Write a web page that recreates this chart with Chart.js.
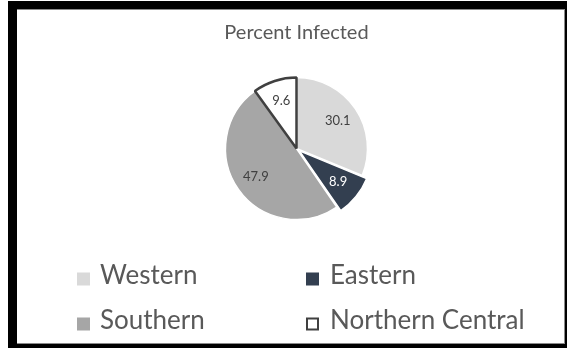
<!DOCTYPE html>
<html>
<head>
<meta charset="utf-8">
<script src="https://cdn.jsdelivr.net/npm/chart.js@4/dist/chart.umd.min.js"></script>
<style>
  html, body { margin: 0; padding: 0; width: 567px; height: 348px; overflow: hidden; background: #fff; }
  #frame { position: absolute; left: 8px; top: 1px; width: 559px; height: 347px; background: #000; }
  #inner { position: absolute; left: 17px; top: 9px; width: 548px; height: 335px; box-sizing: border-box;
           background: #fff; border-top: 1px solid #8a8a8a; border-right: 1px solid #8a8a8a; border-bottom: 1px solid #8a8a8a; }
  #c { position: absolute; left: 0; top: 0; }
</style>
</head>
<body>
<div id="frame"></div>
<div id="inner"></div>
<canvas id="c" width="567" height="348"></canvas>
<script>
// ---- data ----
const chartTitle = 'Percent Infected';
const categories = ['Western', 'Eastern', 'Southern', 'Northern Central'];
const percentInfected = [30.1, 8.9, 47.9, 9.6];

// ---- styles ----
const sliceColors = ['#d9d9d9', '#333f50', '#a6a6a6', '#ffffff'];
const sliceBorders = ['#ffffff', '#ffffff', '#ffffff', '#404040'];
const sliceBorderWidths = [1.5, 1.5, 1.5, 2.5];
const sliceOffsets = [0, 15, 0, 0];
const labelColors = ['#404040', '#ffffff', '#404040', '#404040'];
const textColor = '#595959';
const FONT = 'Lato, "Open Sans", sans-serif';

const annotationsPlugin = {
  id: 'excelLike',
  afterDatasetsDraw(chart) {
    const ctx = chart.ctx;
    const meta = chart.getDatasetMeta(0);
    const ds = chart.data.datasets[0];
    ctx.save();
    ctx.font = '13px ' + FONT;
    ctx.textAlign = 'center';
    ctx.textBaseline = 'middle';
    meta.data.forEach((arc, i) => {
      const p = arc.getProps(['x', 'y', 'startAngle', 'endAngle', 'outerRadius'], true);
      const mid = (p.startAngle + p.endAngle) / 2;
      const shift = (ds.offset[i] || 0) / 4;
      const r = p.outerRadius * 0.7 + shift;
      ctx.fillStyle = labelColors[i];
      ctx.fillText(ds.data[i].toFixed(1), p.x + Math.cos(mid) * r, p.y + Math.sin(mid) * r);
    });
    ctx.restore();
  },
  afterDraw(chart) {
    const ctx = chart.ctx;
    const ca = chart.chartArea;
    const cx = (ca.left + ca.right) / 2;
    ctx.save();
    // title
    ctx.font = '20px ' + FONT;
    ctx.fillStyle = textColor;
    ctx.textAlign = 'center';
    ctx.textBaseline = 'alphabetic';
    ctx.fillText(chartTitle, cx, 38.5);
    // legend (2 x 2 grid)
    const colBox = [77, 306];
    const colText = [100, 330];
    const rowBase = [283.5, 328.5];
    const ds = chart.data.datasets[0];
    ctx.font = '26px ' + FONT;
    ctx.textAlign = 'left';
    chart.data.labels.forEach((lab, i) => {
      const col = i % 2, row = Math.floor(i / 2);
      const bx = colBox[col], by = rowBase[row] - 11;
      ctx.fillStyle = ds.backgroundColor[i];
      ctx.fillRect(bx, by, 13, 13);
      if (ds.borderColor[i] !== '#ffffff') {
        ctx.strokeStyle = ds.borderColor[i];
        ctx.lineWidth = 2;
        ctx.strokeRect(bx + 1, by + 1, 11, 11);
      }
      ctx.fillStyle = textColor;
      ctx.fillText(lab, colText[col], rowBase[row]);
    });
    ctx.restore();
  }
};

new Chart(document.getElementById('c'), {
  type: 'pie',
  data: {
    labels: categories,
    datasets: [{
      data: percentInfected,
      backgroundColor: sliceColors,
      borderColor: sliceBorders,
      borderWidth: sliceBorderWidths,
      offset: sliceOffsets,
      hoverOffset: 0,
      radius: 71
    }]
  },
  options: {
    responsive: false,
    animation: false,
    events: [],
    layout: { padding: { left: 26, right: 0, top: 40, bottom: 91 } },
    plugins: {
      legend: { display: false },
      title: { display: false },
      tooltip: { enabled: false }
    }
  },
  plugins: [annotationsPlugin]
});
</script>
</body>
</html>
